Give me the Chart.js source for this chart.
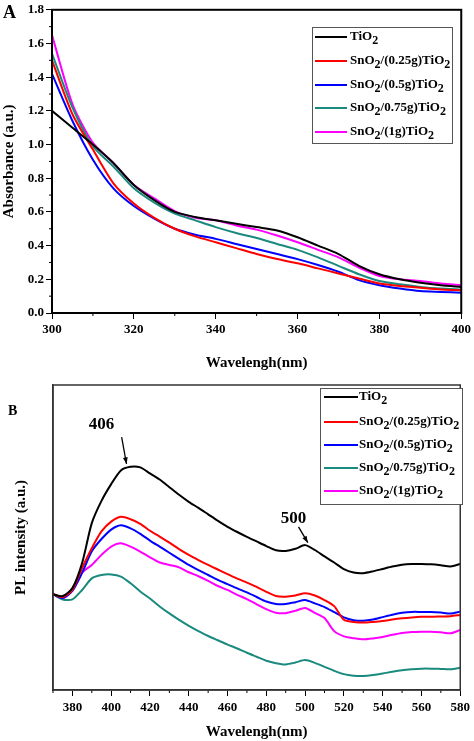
<!DOCTYPE html>
<html>
<head>
<meta charset="utf-8">
<script src="https://cdn.jsdelivr.net/npm/chart.js@4"></script>
<style>
body{margin:0;background:#fff;font-family:"Liberation Serif",serif;font-weight:bold;color:#000;}
#wrap{position:relative;width:474px;height:741px;overflow:hidden;}
.panel{position:absolute;left:0;width:474px;}
.legend{position:absolute;border:1px solid #555;background:#fff;font-size:13px;box-sizing:border-box;}
.legend div{position:absolute;height:20px;line-height:20px;white-space:nowrap;}
.legend .ln{position:absolute;height:2px;}
.legend sub{font-size:12px;vertical-align:-4px;line-height:0;}
.tag{position:absolute;}
</style>
</head>
<body>
<div id="wrap">
  <div class="panel" style="top:0;height:372px"><canvas id="chartA"></canvas></div>
  <div class="panel" style="top:372px;height:369px"><canvas id="chartB"></canvas></div>
  <div class="tag" style="left:3px;top:2px;font-size:18px">A</div>
  <div class="tag" style="left:8px;top:403px;font-size:14px">B</div>
  <div class="legend" id="legA" style="left:312px;top:27px;width:141px;height:117px"></div>
  <div class="legend" id="legB" style="left:320px;top:388px;width:143px;height:117px"></div>
</div>
<script>
// series names and colours (name of 4th entry kept as printed in the figure)
let names = ["TiO2", "SnO2/(0.25g)TiO2", "SnO2/(0.5g)TiO2", "SnO2/0.75g)TiO2", "SnO2/(1g)TiO2"];
let colors = ["#000000", "#ff0000", "#0000ff", "#1a8a7e", "#ff00ff"];

// panel A - absorbance
let wavelengthA = [300,305,310,315,320,325,330,335,340,345,350,355,360,365,370,375,380,385,390,395,400];
let tio2A   = [1.20,1.10,1.00,0.89,0.76,0.67,0.60,0.57,0.55,0.53,0.51,0.49,0.45,0.40,0.35,0.28,0.23,0.20,0.18,0.165,0.155];
let sn025A  = [1.50,1.18,0.97,0.77,0.65,0.565,0.50,0.455,0.42,0.385,0.35,0.32,0.295,0.265,0.235,0.205,0.175,0.16,0.15,0.14,0.135];
let sn05A   = [1.42,1.14,0.91,0.74,0.635,0.56,0.50,0.465,0.44,0.41,0.38,0.35,0.32,0.285,0.245,0.195,0.165,0.145,0.13,0.125,0.12];
let sn075A  = [1.54,1.22,0.99,0.87,0.74,0.655,0.59,0.55,0.51,0.475,0.445,0.41,0.375,0.33,0.28,0.23,0.19,0.17,0.155,0.145,0.14];
let sn1A    = [1.65,1.24,1.01,0.89,0.76,0.68,0.605,0.565,0.55,0.52,0.495,0.46,0.42,0.375,0.33,0.27,0.22,0.20,0.19,0.175,0.165];
let ticksXA = [300,320,340,360,380,400];
let ticksYA = [0,0.2,0.4,0.6,0.8,1.0,1.2,1.4,1.6,1.8];
let minorXA = [310,330,350,370,390];
let minorYA = [0.1,0.3,0.5,0.7,0.9,1.1,1.3,1.5,1.7];

// panel B - PL intensity (arbitrary units)
let wavelengthB = [370,375,380,385,390,395,400,405,410,415,420,425,430,435,440,445,450,455,460,465,470,475,480,485,490,495,500,505,510,515,520,525,530,535,540,545,550,555,560,565,570,575,580];
let tio2B  = [31.4,30.8,33.4,41.6,54.7,62,67.5,72,73.2,73,71,69,66.5,64,61.7,59.7,57.6,55.5,53.5,51.8,50.2,48.7,47.2,45.8,45.6,46.3,47.5,45.9,43.8,41.8,39.6,38.5,38.3,38.9,39.7,40.5,41.1,41.3,41.3,41.2,40.9,40.5,41.3];
let sn025B = [31.4,30.5,32.8,40,46.5,52,55.2,56.8,56,54.5,52.2,50.3,48.3,46.2,44.3,42.6,41,39.5,38,36.5,35.2,33.8,32.2,30.8,30.6,31,31.7,31,29.5,27.5,23,22.3,22.1,22.3,22.6,23.1,23.5,23.8,24,24,24.1,24.2,24.6];
let sn05B  = [31.4,30.2,32.5,38.4,45.5,49.5,52.6,54,53,51.2,49,47,45,43,41,39.3,37.7,36.1,34.7,33.3,32,30.5,29,28.2,28.2,28.8,29.5,28.4,27.2,25.5,23.8,22.9,22.7,23.1,23.9,24.7,25.3,25.6,25.6,25.6,25.4,25.1,25.7];
let sn075B = [31.4,29.7,29.7,32.8,36.6,37.7,37.9,37.2,35,32.3,30,27.4,25.1,23,21,19.3,17.7,16.3,14.9,13.6,12.2,10.9,9.6,8.8,8.4,9,9.8,8.9,7.6,6.3,5.2,4.7,4.6,4.9,5.4,6,6.5,6.8,7,7,6.9,6.8,7.3];
let sn1B   = [31.4,30,33,38.5,41,44.3,47,48.1,47,45.4,43.5,41.8,41,40.2,38.6,37.3,35.8,34.1,32.8,31.2,29.8,28.1,26.5,25.3,25.2,26,26.9,25.3,23.6,19.3,17.6,17,16.6,16.9,17.4,18.1,18.7,19,19.1,19.1,18.9,18.6,19.7];
let ticksXB = [380,400,420,440,460,480,500,520,540,560,580];
let minorXB = [370,390,410,430,450,470,490,510,530,550,570];

// peak labels in panel B (data coordinates)
let peakLabels = [
	{ text: "406", x: 395, y: 86.9, from: [405.4, 82.9], to: [407.9, 74.1] },
	{ text: "500", x: 494, y: 56.1, from: [496.6, 53.5], to: [501.4, 48.3] },
];

let FONT = "'Liberation Serif', serif";

function makeSets(xs, series) {
	return series.map((vals, i) => ({
		label: names[i],
		data: xs.map((w, j) => ({ x: w, y: vals[j] })),
		borderColor: colors[i],
		backgroundColor: colors[i],
		borderWidth: 2,
		pointRadius: 0,
		tension: 0.25,
		fill: false,
	}));
}

// frame + minor ticks
const framePlugin = {
	id: "framePlugin",
	afterDraw(chart, args, opts) {
		const ctx = chart.ctx;
		const a = chart.chartArea;
		ctx.save();
		ctx.strokeStyle = "#000";
		ctx.lineWidth = 1;
		(opts.minorX || []).forEach((v) => {
			const px = chart.scales.x.getPixelForValue(v);
			ctx.beginPath();
			ctx.moveTo(px, a.bottom);
			ctx.lineTo(px, a.bottom + 3);
			ctx.stroke();
		});
		(opts.minorY || []).forEach((v) => {
			const py = chart.scales.y.getPixelForValue(v);
			ctx.beginPath();
			ctx.moveTo(a.left, py);
			ctx.lineTo(a.left - 3, py);
			ctx.stroke();
		});
		ctx.lineWidth = opts.frameWidth || 1.5;
		ctx.strokeStyle = opts.frameColor || "#000";
		ctx.strokeRect(a.left, a.top, a.right - a.left, a.bottom - a.top);
		ctx.restore();
	},
};

// arrows + peak numbers
const peakPlugin = {
	id: "peakPlugin",
	afterDraw(chart, args, opts) {
		if (!opts.items) return;
		const ctx = chart.ctx;
		const xs = chart.scales.x, ys = chart.scales.y;
		ctx.save();
		ctx.fillStyle = "#000";
		ctx.strokeStyle = "#000";
		ctx.font = "bold 17px " + FONT;
		ctx.textAlign = "center";
		ctx.textBaseline = "middle";
		opts.items.forEach((p) => {
			ctx.fillText(p.text, xs.getPixelForValue(p.x), ys.getPixelForValue(p.y));
			const x1 = xs.getPixelForValue(p.from[0]), y1 = ys.getPixelForValue(p.from[1]);
			const x2 = xs.getPixelForValue(p.to[0]), y2 = ys.getPixelForValue(p.to[1]);
			ctx.lineWidth = 1.3;
			ctx.beginPath();
			ctx.moveTo(x1, y1);
			ctx.lineTo(x2, y2);
			ctx.stroke();
			const ang = Math.atan2(y2 - y1, x2 - x1);
			ctx.beginPath();
			ctx.moveTo(x2, y2);
			ctx.lineTo(x2 - 7 * Math.cos(ang - 0.35), y2 - 7 * Math.sin(ang - 0.35));
			ctx.lineTo(x2 - 7 * Math.cos(ang + 0.35), y2 - 7 * Math.sin(ang + 0.35));
			ctx.closePath();
			ctx.fill();
		});
		ctx.restore();
	},
};

Chart.defaults.font.family = FONT;
Chart.defaults.font.weight = "bold";
Chart.defaults.color = "#000";
Chart.defaults.animation = false;

var chartA = new Chart(document.getElementById("chartA"), {
	type: "line",
	data: { datasets: makeSets(wavelengthA, [tio2A, sn025A, sn05A, sn075A, sn1A]) },
	plugins: [framePlugin],
	options: {
		responsive: true,
		maintainAspectRatio: false,
		layout: { padding: { top: 7, right: 12, left: 0, bottom: 0 } },
		plugins: {
			legend: { display: false },
			tooltip: { enabled: false },
			framePlugin: { minorX: minorXA, minorY: minorYA, frameWidth: 2 },
		},
		scales: {
			x: {
				type: "linear",
				min: 300,
				max: 400,
				afterBuildTicks: (s) => { s.ticks = ticksXA.map((v) => ({ value: v })); },
				afterFit: (s) => { s.height = 59; },
				grid: { drawOnChartArea: false, tickLength: 6, color: "#000", lineWidth: 1 },
				border: { color: "#000", width: 2 },
				ticks: { font: { size: 13, weight: "bold" }, padding: 3, maxRotation: 0 },
				title: { display: true, text: "Wavelengh(nm)", font: { size: 15, weight: "bold" }, padding: { top: 10, bottom: 0 } },
			},
			y: {
				min: 0,
				max: 1.8,
				afterBuildTicks: (s) => { s.ticks = ticksYA.map((v) => ({ value: v })); },
				afterFit: (s) => { s.width = 52; },
				grid: { drawOnChartArea: false, tickLength: 6, color: "#000", lineWidth: 1 },
				border: { color: "#000", width: 2 },
				ticks: { font: { size: 13, weight: "bold" }, padding: 2, callback: (v) => Number(v).toFixed(1) },
				title: { display: true, text: "Absorbance (a.u.)", font: { size: 15, weight: "bold" }, padding: { top: 0, bottom: 0 } },
			},
		},
	},
});

var chartB = new Chart(document.getElementById("chartB"), {
	type: "line",
	data: { datasets: makeSets(wavelengthB, [tio2B, sn025B, sn05B, sn075B, sn1B]) },
	plugins: [framePlugin, peakPlugin],
	options: {
		responsive: true,
		maintainAspectRatio: false,
		layout: { padding: { top: 13, right: 11, left: 0, bottom: 0 } },
		plugins: {
			legend: { display: false },
			tooltip: { enabled: false },
			framePlugin: { minorX: minorXB, frameWidth: 1.5, frameColor: "#333" },
			peakPlugin: { items: peakLabels },
		},
		scales: {
			x: {
				type: "linear",
				min: 370,
				max: 580,
				afterBuildTicks: (s) => { s.ticks = ticksXB.map((v) => ({ value: v })); },
				afterFit: (s) => { s.height = 51; },
				grid: { drawOnChartArea: false, tickLength: 6, color: "#000", lineWidth: 1 },
				border: { color: "#333", width: 1.5 },
				ticks: { font: { size: 13, weight: "bold" }, padding: 4, maxRotation: 0 },
				title: { display: true, text: "Wavelengh(nm)", font: { size: 15, weight: "bold" }, padding: { top: 2, bottom: 0 } },
			},
			y: {
				min: 0,
				max: 100,
				afterFit: (s) => { s.width = 53; },
				grid: { display: false },
				border: { color: "#333", width: 1.5 },
				ticks: { display: false },
				title: { display: true, text: "PL intensity (a.u.)", font: { size: 15, weight: "bold" }, padding: { top: 12, bottom: 0 } },
			},
		},
	},
});

// html legends with subscripts
function buildLegend(id, rows, lineX, lineW, textX) {
	const box = document.getElementById(id);
	names.forEach((n, i) => {
		const ln = document.createElement("span");
		ln.className = "ln";
		ln.style.left = lineX + "px";
		ln.style.width = lineW + "px";
		ln.style.top = rows[i] - 1 + "px";
		ln.style.background = colors[i];
		box.appendChild(ln);
		const t = document.createElement("div");
		t.style.left = textX + "px";
		t.style.top = rows[i] - 11 + "px";
		t.innerHTML = n.replace(/O2/g, "O<sub>2</sub>");
		box.appendChild(t);
	});
}
buildLegend("legA", [9, 33, 57, 80, 104], 2, 32, 37);
buildLegend("legB", [8, 33, 56, 79, 102], 3, 34, 38);
</script>
</body>
</html>
